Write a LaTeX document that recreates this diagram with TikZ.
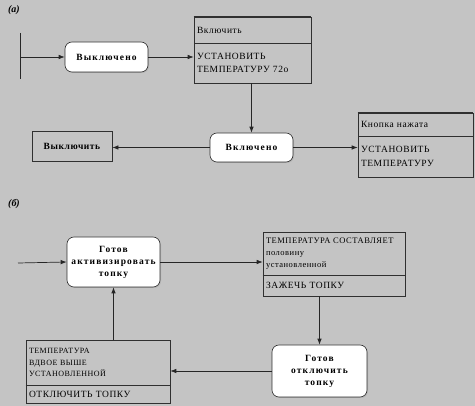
\documentclass[tikz,border=0pt]{standalone}
\usepackage{fontspec}
\setmainfont{Liberation Serif}
\newfontfamily\spaced[LetterSpace=6]{Liberation Serif}
\newfontfamily\spacedb[LetterSpace=12]{Liberation Serif}
\usetikzlibrary{arrows.meta,shadows}
\definecolor{bg}{HTML}{C4C4C4}
\definecolor{edge}{HTML}{303030}
\begin{document}
\begin{tikzpicture}[x=1pt,y=-1pt,
  statebox/.style={draw=edge,line width=0.6pt,fill=white,rounded corners=7pt,align=center,inner sep=1pt,font=\spacedb\fontsize{9.5}{12}\selectfont\bfseries,drop shadow={shadow xshift=1pt,shadow yshift=-1pt,fill=black!35,opacity=0.6}},
  comp/.style={draw=edge,line width=0.6pt,fill=bg,align=left,inner sep=3pt,font=\spaced\fontsize{9.5}{13.5}\selectfont},
  plainbox/.style={draw=edge,line width=0.8pt,fill=bg,inner sep=1pt,font=\spaced\fontsize{9.5}{10}\selectfont\bfseries},
  conn/.style={draw=black!85,line width=0.7pt},
  arr/.style={conn,-{Latex[length=6pt,width=4.5pt]}},
  lbl/.style={font=\fontsize{10}{10}\selectfont\bfseries\itshape,inner sep=0pt}]
\useasboundingbox[fill=bg] (0,0) rectangle (475,406);

% (a)
\node[lbl] (la) at (14,10) {(а)};
\coordinate (bart) at (20,33);
\coordinate (barb) at (20,79);
\coordinate (bars) at (20,57);
\draw[conn,line width=1pt] (bart) -- (barb);

\node[statebox,minimum width=83pt,minimum height=30pt] (s1) at (106.5,57) {Выключено};
\node[comp,minimum width=117pt,minimum height=26pt,text width=111pt] (b1a) at (252.5,30) {Включить};
\node[comp,minimum width=117pt,minimum height=40pt,text width=111pt] (b1b) at (252.5,63) {УСТАНОВИТЬ\\ТЕМПЕРАТУРУ 72о};
\draw[line width=1.4pt,edge] (b1a.north west) -- (b1a.north east);

\node[statebox,minimum width=83pt,minimum height=29pt] (s2) at (251.5,147.5) {Включено};
\node[plainbox,minimum width=80pt,minimum height=30pt] (off) at (72,146) {Выключить};
\node[comp,minimum width=115pt,minimum height=23pt,text width=109pt] (b3a) at (415.5,124.5) {Кнопка нажата};
\node[comp,minimum width=115pt,minimum height=41pt,text width=109pt] (b3b) at (415.5,156.5) {УСТАНОВИТЬ\\ТЕМПЕРАТУРУ};
\draw[line width=1.4pt,edge] (b3a.north west) -- (b3a.north east);

\draw[arr] (bars) -- (s1.west);
\draw[arr] (s1.east) -- (s1.east -| b1b.west);
\draw[arr] (b1b.south -| s2.north) -- (s2.north);
\draw[arr] (s2.west) -- (s2.west -| off.east);
\draw[arr] (s2.east) -- (s2.east -| b3b.west);

% (б)
\node[lbl] (lb) at (14,204) {(б)};
\coordinate (start) at (18,263);
\node[statebox,minimum width=93pt,minimum height=50pt] (s3) at (113.5,262) {Готов\\активизировать\\топку};
\node[comp,minimum width=142pt,minimum height=43pt,text width=136pt,font=\spaced\fontsize{8.5}{12}\selectfont] (b4a) at (334,253.5) {ТЕМПЕРАТУРА СОСТАВЛЯЕТ\\половину\\установленной};
\node[comp,minimum width=142pt,minimum height=21pt,text width=136pt] (b4b) at (334,285.5) {ЗАЖЕЧЬ ТОПКУ};
\draw[line width=1.4pt,edge] (b4a.south west) -- (b4a.south east);
\node[statebox,minimum width=95pt,minimum height=52pt] (s4) at (319.5,371) {Готов\\отключить\\топку};
\node[comp,minimum width=144pt,minimum height=45pt,text width=138pt,font=\spaced\fontsize{8}{11.5}\selectfont] (b5a) at (98,362.5) {ТЕМПЕРАТУРА\\ВДВОЕ ВЫШЕ\\УСТАНОВЛЕННОЙ};
\node[comp,minimum width=144pt,minimum height=18pt,text width=138pt] (b5b) at (98,394) {ОТКЛЮЧИТЬ ТОПКУ};
\draw[line width=1.4pt,edge] (b5a.south west) -- (b5a.south east);

\draw[arr] (start) -- (s3.west);
\draw[arr] (s3.east) -- (s3.east -| b4a.west);
\draw[arr] (b4b.south -| s4.north) -- (s4.north);
\draw[arr] (s4.west) -- (s4.west -| b5a.east);
\draw[arr] (b5a.north -| s3.south) -- (s3.south);
\end{tikzpicture}
\end{document}
